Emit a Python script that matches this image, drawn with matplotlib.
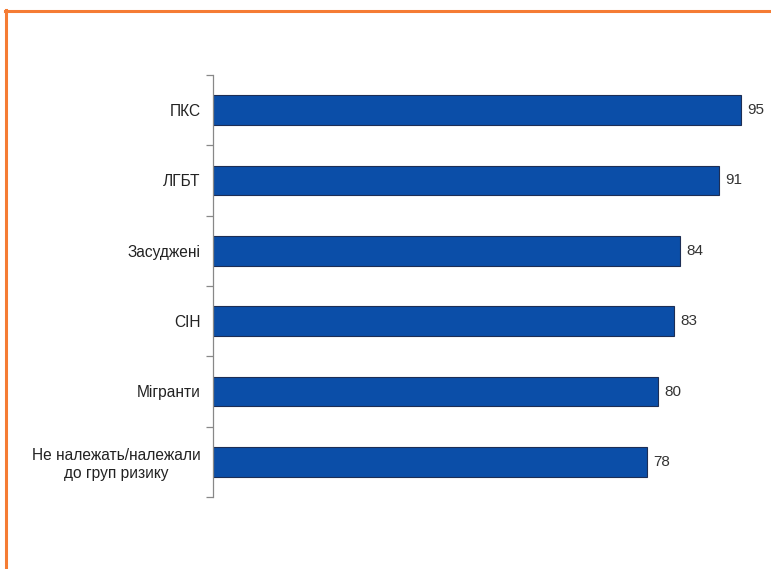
import matplotlib
matplotlib.use("Agg")
import matplotlib.pyplot as plt
from matplotlib.lines import Line2D
import numpy as np

# групи та частки (%)
groups = ["ПКС", "ЛГБТ", "Засуджені", "СІН", "Мігранти",
          "Не належать/належали\nдо груп ризику"]
values = [95, 91, 84, 83, 80, 78]

plt.rcParams['font.family'] = ['Liberation Sans', 'DejaVu Sans']

W, H = 771, 569
fig = plt.figure(figsize=(W/100, H/100), dpi=100)

# рамка зверху і зліва
orange = '#f57c34'
fig.add_artist(Line2D([5/W, 1], [1 - 10.5/H, 1 - 10.5/H], color=orange, lw=2.2,
                      transform=fig.transFigure))
fig.add_artist(Line2D([5.5/W, 5.5/W], [0, 1 - 10/H], color=orange, lw=2.2,
                      transform=fig.transFigure))

ax = fig.add_axes([213/W, 72/H, 556/W, 422/H])
y = np.arange(len(groups))
ax.barh(y, values, height=0.42, color='#0b4ea8', edgecolor='#1d2e55', lw=0.8)

for yy, v in zip(y, values):
    ax.text(v + 1.1, yy, str(v), va='center', ha='left', fontsize=11, color='#333333')

ax.set_xlim(0, 100)
ax.set_ylim(len(groups) - 0.5, -0.5)
ax.set_yticks(y)
ax.set_yticklabels(groups, fontsize=11.2, color='#222222', ha='right',
                   multialignment='center', linespacing=1.2)
ax.tick_params(axis='y', which='major', length=0, pad=9)
ax.set_yticks(np.arange(-0.5, len(groups)), minor=True)
ax.tick_params(axis='y', which='minor', length=5, width=0.9, color='#888888', direction='out')
ax.set_xticks([])
for s in ['top', 'right', 'bottom']:
    ax.spines[s].set_visible(False)
ax.spines['left'].set_color('#888888')
ax.spines['left'].set_linewidth(0.9)

fig.savefig('out.png', dpi=100)
